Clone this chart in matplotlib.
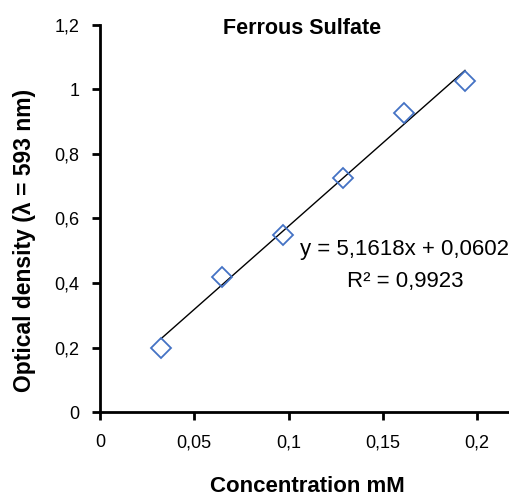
import matplotlib
matplotlib.use("Agg")
import matplotlib.pyplot as plt
from matplotlib.ticker import FuncFormatter

plt.rcParams['font.family'] = ['Liberation Sans', 'DejaVu Sans']

concentration = [0.0323, 0.0645, 0.0968, 0.129, 0.161, 0.1935]
optical_density = [0.20, 0.42, 0.55, 0.726, 0.927, 1.026]
slope = 5.1618
intercept = 0.0602
x_ticks = [0, 0.05, 0.1, 0.15, 0.2]
y_ticks = [0, 0.2, 0.4, 0.6, 0.8, 1.0, 1.2]

fig = plt.figure(figsize=(5.10, 4.99), dpi=100)
ax = fig.add_axes([0.196, 0.1743, 0.8137, 0.7757])

xs = [concentration[0], concentration[-1]]
ax.plot(xs, [slope * x + intercept for x in xs], color='black', lw=1.0, zorder=2)
ax.plot(concentration, optical_density, linestyle='none', marker='D',
        markersize=10.5, markerfacecolor='none', markeredgecolor='#4472C4',
        markeredgewidth=1.3, zorder=3)

ax.set_xlim(0, 0.22)
ax.set_ylim(0, 1.2)
ax.set_xticks(x_ticks)
ax.set_yticks(y_ticks)

def fmt(v, pos):
    s = f"{v:.2f}".rstrip('0').rstrip('.')
    return s.replace('.', ',')

ax.xaxis.set_major_formatter(FuncFormatter(fmt))
ax.yaxis.set_major_formatter(FuncFormatter(fmt))

for s in ['top', 'right']:
    ax.spines[s].set_visible(False)
for s in ['left', 'bottom']:
    ax.spines[s].set_linewidth(2)
ax.tick_params(axis='both', direction='out', length=6, width=2, labelsize=13)
ax.tick_params(axis='x', pad=10)
ax.tick_params(axis='y', pad=9)

fig.text(302 / 510, 1 - 29 / 499, 'Ferrous Sulfate', fontsize=15.5, fontweight='bold',
         ha='center', va='center')
fig.text(0.602, 1 - 487 / 499, 'Concentration mM', fontsize=16, fontweight='bold',
         ha='center', va='center')
fig.text(25 / 510, 1 - 240 / 499, 'Optical density (λ = 593 nm)', fontsize=16.5,
         fontweight='bold', ha='center', va='center', rotation=90)

fig.text(405 / 510, 1 - 250 / 499, 'y = 5,1618x + 0,0602', fontsize=16,
         ha='center', va='center')
fig.text(405 / 510, 1 - 282 / 499, 'R² = 0,9923', fontsize=16,
         ha='center', va='center')

fig.savefig('out.png', dpi=100)
